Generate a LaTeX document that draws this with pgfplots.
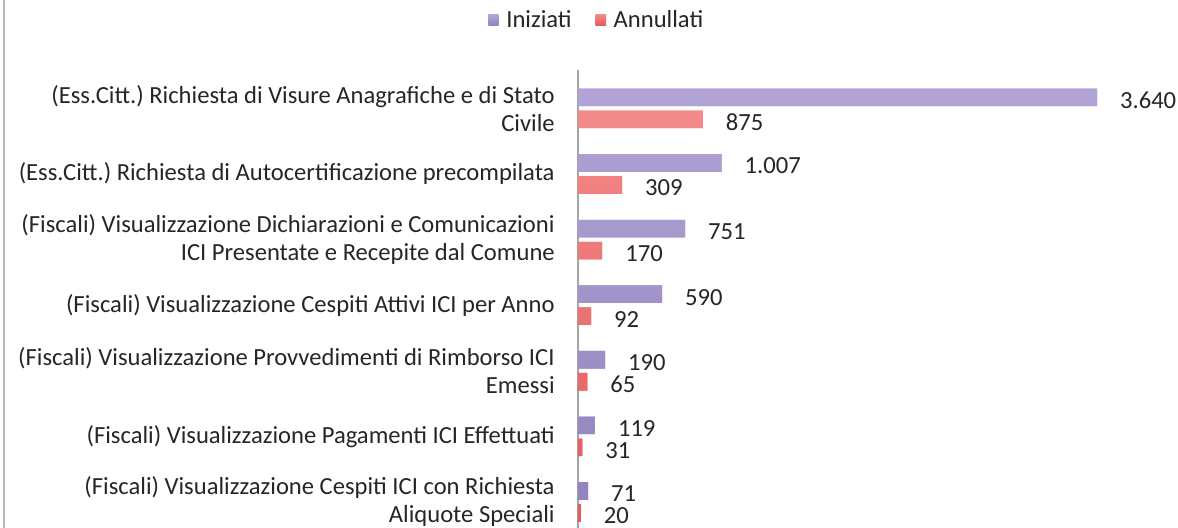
\documentclass[border=0pt]{standalone}
\usepackage{pgfplots}
\pgfplotsset{compat=1.18}
\usepackage{fontspec}
\setmainfont{Carlito}
\frenchspacing
\definecolor{purpT}{HTML}{B2A4D6}
\definecolor{purpB}{HTML}{9383BE}
\definecolor{purpL}{HTML}{A293C8}
\definecolor{redT}{HTML}{F38A8A}
\definecolor{redB}{HTML}{E35A5A}
\definecolor{redL}{HTML}{EE7070}
\begin{document}
\begin{tikzpicture}
\useasboundingbox (0,0) rectangle (589pt,264pt);
\clip (0,0) rectangle (589pt,264pt);
\fill[white] (0,0) rectangle (589pt,264pt);
\draw[gray!55, line width=1pt] (2pt,0) -- (2pt,264pt);
\begin{axis}[
  at={(289pt,229pt)}, anchor=north west,
  x=0.0713pt, y=32.8pt,
  y dir=reverse,
  xmin=0, xmax=4207,
  ymin=-0.585, ymax=6.8,
  xbar, bar width=8.8pt,
  axis x line=none,
  axis y line=left,
  y axis line style={-, draw=gray!70, line width=0.6pt},
  ytick={0,1,2,3,4,5,6},
  ytick style={draw=none},
  yticklabels={
    {(Ess.Citt.) Richiesta di Visure Anagrafiche e di Stato\\Civile},
    {(Ess.Citt.) Richiesta di Autocertificazione precompilata},
    {(Fiscali) Visualizzazione Dichiarazioni e Comunicazioni\\ICI Presentate e Recepite dal Comune},
    {(Fiscali) Visualizzazione Cespiti Attivi ICI per Anno},
    {(Fiscali) Visualizzazione Provvedimenti di Rimborso ICI\\Emessi},
    {(Fiscali) Visualizzazione Pagamenti ICI Effettuati},
    {(Fiscali) Visualizzazione Cespiti ICI con Richiesta\\Aliquote Speciali}},
  yticklabel style={align=right, font=\fontsize{12.3}{14}\selectfont, text=black!85, xshift=-6pt},
  nodes near coords,
  nodes near coords style={anchor=west, font=\fontsize{12.3}{14}\selectfont, text=black!85,
     xshift=8pt, yshift=-1.5pt,
     /pgf/number format/.cd, 1000 sep={.}, assume math mode=true},
  legend style={at={(0.033,1.103)}, anchor=center, draw=none, fill=none,
     legend columns=2, font=\fontsize{12.3}{14}\selectfont, text=black!85,
     /tikz/every even column/.append style={column sep=10pt}},
  legend image code/.code={\fill[#1] (0pt,-2.6pt) rectangle (5.2pt,2.6pt);
     \path (0pt,0pt) -- (7pt,0pt);},
  clip=false,
]
\addplot[draw=none, top color=purpT, bottom color=purpB, fill=purpL, bar shift=5.5pt]
  coordinates {(3640,0) (1007,1) (751,2) (590,3) (190,4) (119,5) (71,6)};
\addplot[draw=none, top color=redT, bottom color=redB, fill=redL, bar shift=-5.5pt]
  coordinates {(875,0) (309,1) (170,2) (92,3) (65,4) (31,5) (20,6)};
\legend{Iniziati, Annullati}
\end{axis}
\end{tikzpicture}
\end{document}
